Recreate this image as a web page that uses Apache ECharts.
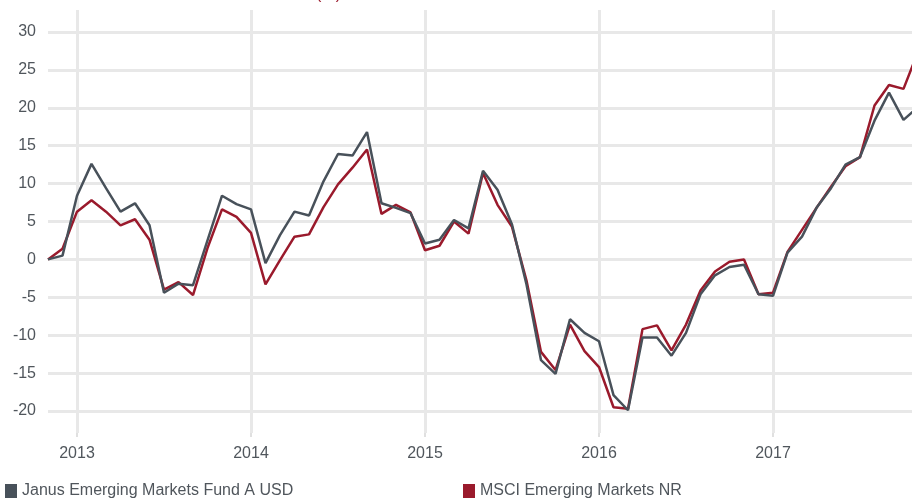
<!DOCTYPE html>
<html>
<head>
<meta charset="utf-8">
<script src="https://cdn.jsdelivr.net/npm/echarts@6/dist/echarts.min.js"></script>
<style>
html,body{margin:0;padding:0;background:#fff;}
#chart{width:912px;height:499px;}
</style>
</head>
<body>
<div id="chart"></div>
<script>
var months = ['2012-11','2012-12',
'2013-01','2013-02','2013-03','2013-04','2013-05','2013-06','2013-07','2013-08','2013-09','2013-10','2013-11','2013-12',
'2014-01','2014-02','2014-03','2014-04','2014-05','2014-06','2014-07','2014-08','2014-09','2014-10','2014-11','2014-12',
'2015-01','2015-02','2015-03','2015-04','2015-05','2015-06','2015-07','2015-08','2015-09','2015-10','2015-11','2015-12',
'2016-01','2016-02','2016-03','2016-04','2016-05','2016-06','2016-07','2016-08','2016-09','2016-10','2016-11','2016-12',
'2017-01','2017-02','2017-03','2017-04','2017-05','2017-06','2017-07','2017-08','2017-09','2017-10','2017-11'];

var fundName = 'Janus Emerging Markets Fund A USD';
var indexName = 'MSCI Emerging Markets NR';

var fundValues = [0, 0.5,
 8.4, 12.6, 9.4, 6.3, 7.4, 4.5, -4.4, -3.2, -3.4, 2.5, 8.4, 7.3,
 6.6, -0.5, 3.2, 6.3, 5.8, 10.3, 13.9, 13.7, 16.8, 7.4, 6.8, 6.1,
 2.1, 2.6, 5.2, 4.1, 11.7, 9.2, 4.6, -3.3, -13.3, -15.1, -7.9, -9.7,
 -10.8, -17.9, -19.9, -10.3, -10.3, -12.7, -9.7, -4.6, -2.1, -1.0, -0.7, -4.6,
 -4.8, 0.9, 3.0, 6.8, 9.4, 12.5, 13.5, 18.3, 22.0, 18.4, 20.1];

var indexValues = [0, 1.4,
 6.3, 7.8, 6.3, 4.5, 5.3, 2.6, -4.0, -3.0, -4.7, 1.5, 6.6, 5.6,
 3.5, -3.3, -0.1, 3.0, 3.3, 6.9, 9.9, 12.1, 14.5, 6.0, 7.2, 6.2,
 1.2, 1.8, 5.0, 3.4, 11.4, 7.2, 4.3, -2.8, -12.2, -14.6, -8.6, -12.1,
 -14.2, -19.5, -19.7, -9.2, -8.7, -12.0, -8.6, -4.1, -1.6, -0.3, 0.0, -4.6,
 -4.4, 1.0, 3.9, 6.8, 9.6, 12.3, 13.5, 20.3, 23.0, 22.5, 27.4];

var yMin = -20, yMax = 30, yStep = 5;

var FONT = 'Liberation Sans, Arial, Helvetica, sans-serif';
var GRID_COLOR = '#e8e8e8';
var FUND_COLOR = '#48515a';
var INDEX_COLOR = '#9a1a2c';
var TEXT_COLOR = '#50565c';

function isYearStart(idx, val) { return /-01$/.test(val); }

var chart = echarts.init(document.getElementById('chart'), null, {renderer: 'canvas'});
chart.setOption({
  animation: false,
  backgroundColor: '#ffffff',
  title: {
    text: 'Cumulative Performance (%)',
    right: 566,
    top: -18,
    textStyle: {color: INDEX_COLOR, fontSize: 16, fontWeight: 'normal', fontFamily: FONT}
  },
  grid: [
    {left: 48, width: 870, top: 10, bottom: 66, outerBoundsMode: 'none', containLabel: false},
    {left: 48, width: 870, top: 32, bottom: 88, outerBoundsMode: 'none', containLabel: false}
  ],
  xAxis: [
    {
      gridIndex: 0, type: 'category', data: months, boundaryGap: false,
      axisLine: {show: false},
      axisTick: {show: true, interval: isYearStart, length: 4, lineStyle: {color: '#e0e0e0', width: 2}},
      axisLabel: {
        interval: isYearStart, margin: 13, color: TEXT_COLOR, fontSize: 16, fontFamily: FONT,
        formatter: function (v) { return v.slice(0, 4); }
      },
      splitLine: {show: true, interval: isYearStart, lineStyle: {color: GRID_COLOR, width: 3}}
    },
    {
      gridIndex: 1, type: 'category', data: months, boundaryGap: false, show: false
    }
  ],
  yAxis: [
    {gridIndex: 0, type: 'value', show: false, splitLine: {show: false}},
    {
      gridIndex: 1, type: 'value', min: yMin, max: yMax, interval: yStep,
      axisLine: {show: false}, axisTick: {show: false},
      axisLabel: {margin: 12, color: TEXT_COLOR, fontSize: 16, fontFamily: FONT},
      splitLine: {show: true, lineStyle: {color: GRID_COLOR, width: 3}}
    }
  ],
  legend: [
    {
      data: [fundName], left: 0, bottom: -5, icon: 'rect', itemWidth: 12, itemHeight: 14, itemGap: 6,
      textStyle: {color: TEXT_COLOR, fontSize: 16, fontFamily: FONT}
    },
    {
      data: [indexName], left: 458, bottom: -5, icon: 'rect', itemWidth: 12, itemHeight: 14, itemGap: 6,
      textStyle: {color: TEXT_COLOR, fontSize: 16, fontFamily: FONT}
    }
  ],
  series: [
    {
      name: indexName, type: 'line', xAxisIndex: 1, yAxisIndex: 1, data: indexValues,
      symbol: 'none', z: 2, color: INDEX_COLOR,
      lineStyle: {color: INDEX_COLOR, width: 2.5}
    },
    {
      name: fundName, type: 'line', xAxisIndex: 1, yAxisIndex: 1, data: fundValues,
      symbol: 'none', z: 3, color: FUND_COLOR,
      lineStyle: {color: FUND_COLOR, width: 2.5}
    }
  ]
});
</script>
</body>
</html>
